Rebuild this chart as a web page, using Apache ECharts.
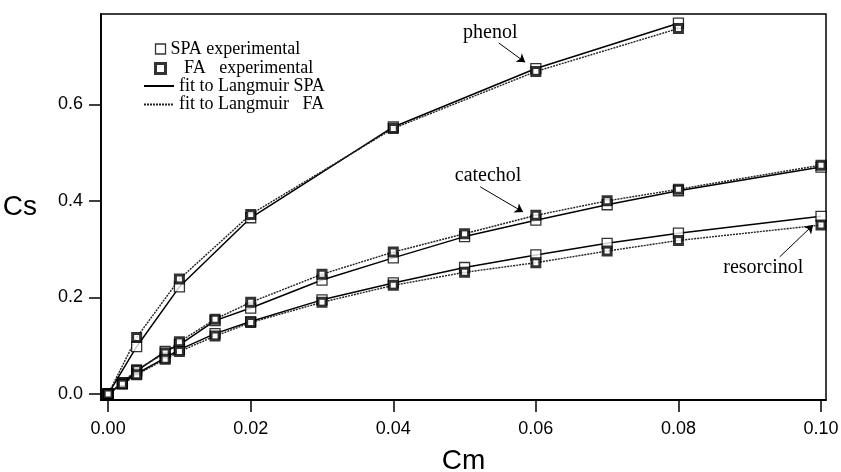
<!DOCTYPE html>
<html>
<head>
<meta charset="utf-8">
<script src="https://cdn.jsdelivr.net/npm/echarts@6/dist/echarts.min.js"></script>
<style>
  html, body { margin: 0; padding: 0; background: #fff; }
  #chart { width: 841px; height: 472px; }
</style>
</head>
<body>
<div id="chart"></div>
<script>
// Adsorption isotherms: surface concentration Cs against solution concentration Cm
const phenolCm = [0, 0.004, 0.01, 0.02, 0.04, 0.06, 0.08];
const phenolSPA = [0, 0.098, 0.222, 0.365, 0.553, 0.674, 0.768];
const phenolFA = [0, 0.117, 0.238, 0.372, 0.550, 0.668, 0.757];

const catecholCm = [0, 0.002, 0.004, 0.008, 0.01, 0.015, 0.02, 0.03, 0.04, 0.05, 0.06, 0.07, 0.08, 0.1];
const catecholSPA = [0, 0.022, 0.048, 0.088, 0.102, 0.152, 0.178, 0.236, 0.282, 0.326, 0.360, 0.392, 0.421, 0.470];
const catecholFA = [0, 0.024, 0.050, 0.085, 0.108, 0.155, 0.190, 0.248, 0.294, 0.332, 0.370, 0.400, 0.424, 0.474];

const resorcinolCm = [0, 0.002, 0.004, 0.008, 0.01, 0.015, 0.02, 0.03, 0.04, 0.05, 0.06, 0.07, 0.08, 0.1];
const resorcinolSPA = [0, 0.022, 0.042, 0.075, 0.092, 0.125, 0.150, 0.195, 0.230, 0.262, 0.288, 0.312, 0.333, 0.368];
const resorcinolFA = [0, 0.020, 0.040, 0.072, 0.088, 0.120, 0.148, 0.190, 0.225, 0.252, 0.272, 0.296, 0.318, 0.350];

const xTicks = [0, 0.02, 0.04, 0.06, 0.08, 0.1];
const yTicks = [0, 0.2, 0.4, 0.6];

// label text, label anchor, arrow start, arrow tip (data coordinates)
const notes = [
  { text: 'phenol', at: [0.0536, 0.749], from: [0.0548, 0.727], to: [0.0585, 0.687] },
  { text: 'catechol', at: [0.0533, 0.453], from: [0.0522, 0.429], to: [0.0582, 0.377] },
  { text: 'resorcinol', at: [0.0919, 0.261], from: [0.0942, 0.284], to: [0.0989, 0.350] }
];

const NAME_SPA = 'SPA experimental';
const NAME_FA = '   FA   experimental';
const NAME_FIT_SPA = 'fit to Langmuir SPA';
const NAME_FIT_FA = 'fit to Langmuir   FA';

const pairs = (xs, ys) => xs.map((x, i) => [x, ys[i]]);
const compounds = [
  { cm: phenolCm, spa: phenolSPA, fa: phenolFA, note: notes[0] },
  { cm: catecholCm, spa: catecholSPA, fa: catecholFA, note: notes[1] },
  { cm: resorcinolCm, spa: resorcinolSPA, fa: resorcinolFA, note: notes[2] }
];

const serif = 'Liberation Serif';
const sans = 'Liberation Sans';
const spaStyle = { color: '#fff', borderColor: '#000', borderWidth: 1.3 };
const faStyle = { color: '#fff', borderColor: '#000', borderWidth: 3 };
const series = [];

compounds.forEach(c => {
  series.push({
    name: NAME_FIT_SPA, type: 'line', symbol: 'none', z: 2,
    data: pairs(c.cm, c.spa),
    itemStyle: { color: '#000' },
    lineStyle: { color: '#000', width: 1.5 },
    markLine: {
      silent: true, symbol: ['none', 'arrow'], symbolSize: 8,
      lineStyle: { color: '#000', width: 1, type: 'solid' },
      label: { show: false },
      data: [[{ coord: c.note.from }, { coord: c.note.to }]]
    },
    markPoint: {
      silent: true,
      data: [{
        coord: c.note.at, symbol: 'circle', symbolSize: 1,
        itemStyle: { color: 'rgba(0,0,0,0)' },
        label: {
          show: true, position: 'inside', formatter: c.note.text,
          fontFamily: serif, fontSize: 20, color: '#000'
        }
      }]
    }
  });
  series.push({
    name: NAME_FIT_FA, type: 'line', symbol: 'none', z: 2,
    data: pairs(c.cm, c.fa),
    itemStyle: { color: '#222' },
    lineStyle: { color: '#222', width: 1.4, type: [2, 1] }
  });
});
compounds.forEach(c => {
  series.push({
    name: NAME_SPA, type: 'scatter', symbol: 'rect', symbolSize: 10, z: 3,
    data: pairs(c.cm, c.spa),
    itemStyle: spaStyle
  });
  series.push({
    name: NAME_FA, type: 'scatter', symbol: 'rect', symbolSize: 8, z: 4,
    data: pairs(c.cm, c.fa),
    itemStyle: faStyle
  });
});

const legendText = { fontFamily: serif, fontSize: 18, color: '#000', lineHeight: 18 };

const chart = echarts.init(document.getElementById('chart'));
chart.setOption({
  animation: false,
  backgroundColor: '#fff',
  grid: {
    left: 101, right: 15, top: 14, bottom: 72,
    outerBoundsMode: 'none', containLabel: false,
    show: true, borderColor: '#000', borderWidth: 1.5, backgroundColor: 'transparent'
  },
  legend: [
    {
      data: [
        { name: NAME_SPA, icon: 'rect', itemStyle: spaStyle },
        { name: NAME_FA, icon: 'rect', itemStyle: faStyle }
      ],
      orient: 'vertical', left: 149, top: 35,
      itemWidth: 10, itemHeight: 10, itemGap: 1.6, selectedMode: false,
      textStyle: legendText
    },
    {
      data: [NAME_FIT_SPA, NAME_FIT_FA], orient: 'vertical', left: 138, top: 72,
      itemWidth: 30, itemHeight: 12, itemGap: 0.6, selectedMode: false,
      itemStyle: { color: 'rgba(0,0,0,0)', borderWidth: 0 },
      textStyle: legendText
    }
  ],
  xAxis: {
    type: 'value', min: -0.001, max: 0.1007,
    name: 'Cm', nameLocation: 'middle', nameGap: 47,
    nameTextStyle: { fontFamily: sans, fontSize: 28, color: '#000' },
    axisLine: { show: true, onZero: false, lineStyle: { color: '#000', width: 1.8 } },
    axisTick: { show: true, customValues: xTicks, length: 12, lineStyle: { color: '#000', width: 1.5 } },
    axisLabel: {
      customValues: xTicks, margin: 20, formatter: v => v.toFixed(2),
      fontFamily: sans, fontSize: 18, color: '#000'
    },
    splitLine: { show: false }
  },
  yAxis: {
    type: 'value', min: -0.0124, max: 0.787,
    name: 'Cs', nameLocation: 'middle', nameRotate: 0, nameGap: 64,
    nameTextStyle: { fontFamily: sans, fontSize: 28, color: '#000' },
    axisLine: { show: true, onZero: false, lineStyle: { color: '#000', width: 1.8 } },
    axisTick: { show: true, customValues: yTicks, length: 12, lineStyle: { color: '#000', width: 1.5 } },
    axisLabel: {
      customValues: yTicks, margin: 18, formatter: v => v.toFixed(1),
      fontFamily: sans, fontSize: 18, color: '#000'
    },
    splitLine: { show: false }
  },
  series: series
});
</script>
</body>
</html>
